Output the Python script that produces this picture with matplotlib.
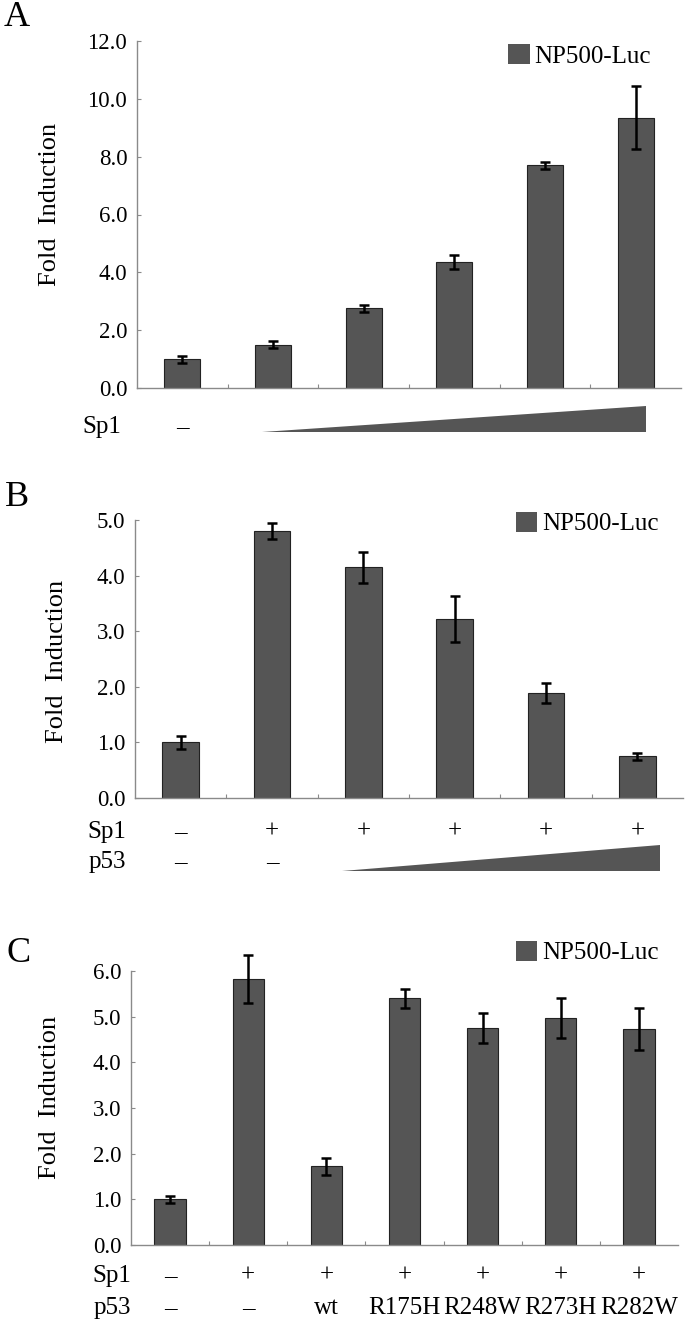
import matplotlib
matplotlib.use("Agg")
import matplotlib.pyplot as plt
import matplotlib.transforms as mtransforms
from matplotlib.patches import Patch, Polygon

plt.rcParams['font.family'] = ['Liberation Serif', 'DejaVu Serif']

# ---------------- data ----------------
a_values = [1.0, 1.5, 2.75, 4.35, 7.7, 9.35]
a_errors = [0.12, 0.12, 0.12, 0.25, 0.12, 1.08]
a_sp1 = ['–']

b_values = [1.0, 4.8, 4.15, 3.22, 1.88, 0.75]
b_errors = [0.12, 0.14, 0.28, 0.42, 0.18, 0.06]
b_sp1 = ['–', '+', '+', '+', '+', '+']
b_p53 = ['–', '–']

c_values = [1.0, 5.82, 1.72, 5.4, 4.75, 4.97, 4.73]
c_errors = [0.07, 0.52, 0.19, 0.2, 0.32, 0.43, 0.45]
c_sp1 = ['–', '+', '+', '+', '+', '+', '+']
c_p53 = ['–', '–', 'wt', 'R175H', 'R248W', 'R273H', 'R282W']

a_ticks = [0.0, 2.0, 4.0, 6.0, 8.0, 10.0, 12.0]
b_ticks = [0.0, 1.0, 2.0, 3.0, 4.0, 5.0]
c_ticks = [0.0, 1.0, 2.0, 3.0, 4.0, 5.0, 6.0]

legend_label = 'NP500-Luc'
ylabel = 'Fold  Induction'

# ---------------- layout ----------------
W, H = 685, 1329
fig = plt.figure(figsize=(W / 100, H / 100), dpi=100)

BAR = '#555555'
AXC = '#8a8a8a'


def axes_px(x0, x1, ytop, ybot):
    return fig.add_axes([x0 / W, 1 - ybot / H, (x1 - x0) / W, (ybot - ytop) / H])


def fy(ypx):
    return 1 - ypx / H


def panel(ax, values, errors, ticks, label_xy, legend_anchor):
    n = len(values)
    x = list(range(n))
    ax.bar(x, values, width=0.4, color=BAR, edgecolor='#222222', linewidth=0.8, zorder=2)
    eb = ax.errorbar(x, values, yerr=errors, fmt='none', ecolor='black', elinewidth=1.8,
                     capsize=3.8, capthick=1.8, zorder=3)
    for art in eb.lines[1] + eb.lines[2]:
        art.set_clip_on(False)
    ax.set_xlim(-0.5, n - 0.5)
    ax.set_ylim(ticks[0], ticks[-1])
    ax.set_yticks(ticks)
    ax.set_yticklabels([f'{t:.1f}' for t in ticks], fontsize=16.5)
    ax.set_xticks([i + 0.5 for i in range(n - 1)])
    ax.set_xticklabels([])
    ax.tick_params(axis='y', direction='in', length=3, width=0.8, color=AXC, pad=7)
    ax.tick_params(axis='x', direction='in', length=3, width=0.8, color=AXC)
    for s in ['top', 'right']:
        ax.spines[s].set_visible(False)
    for s in ['left', 'bottom']:
        ax.spines[s].set_color(AXC)
        ax.spines[s].set_linewidth(1.0)
    ax.set_ylabel(ylabel, fontsize=19)
    ax.yaxis.set_label_coords(*label_xy)
    h = Patch(facecolor=BAR, edgecolor='none')
    ax.legend([h], [legend_label], loc='upper right', bbox_to_anchor=legend_anchor,
              frameon=False, fontsize=18, handlelength=0.85, handleheight=0.85,
              handletextpad=0.2, borderpad=0, borderaxespad=0)


def row(ax, labels, ypx, name, name_right):
    tr = mtransforms.blended_transform_factory(ax.transData, fig.transFigure)
    for i, lab in enumerate(labels):
        ax.text(i, fy(ypx), lab, transform=tr, ha='center', va='center', fontsize=18,
                clip_on=False)
    fig.text(name_right / W, fy(ypx), name, ha='right', va='center', fontsize=18)


def wedge(ax, x0px, x1px, ytop, ybot):
    tr = mtransforms.blended_transform_factory(fig.transFigure, fig.transFigure)
    poly = Polygon([(x0px / W, fy(ybot)), (x1px / W, fy(ybot)), (x1px / W, fy(ytop))],
                   closed=True, facecolor=BAR, edgecolor='none', transform=tr)
    fig.add_artist(poly)


# Panel A
axA = axes_px(137, 681, 41, 388)
panel(axA, a_values, a_errors, a_ticks, (-0.14, 0.53), (0.945, 0.99))
row(axA, a_sp1, 427, 'Sp1', 121)
wedge(axA, 262, 646, 406, 432)
fig.text(4 / W, fy(18), 'A', fontsize=26, ha='left', va='center')

# Panel B
axB = axes_px(135, 683, 520, 798)
panel(axB, b_values, b_errors, b_ticks, (-0.122, 0.49), (0.956, 1.03))
row(axB, b_sp1, 832, 'Sp1', 126)
row(axB, b_p53, 862, 'p53', 126)
wedge(axB, 342, 660, 845, 871)
fig.text(5 / W, fy(498), 'B', fontsize=26, ha='left', va='center')

# Panel C
axC = axes_px(131, 678, 971, 1245)
panel(axC, c_values, c_errors, c_ticks, (-0.128, 0.54), (0.965, 1.11))
row(axC, c_sp1, 1276, 'Sp1', 131)
row(axC, c_p53, 1308, 'p53', 131)
fig.text(6 / W, fy(954), 'C', fontsize=26, ha='left', va='center')

fig.savefig('out.png', dpi=100)
